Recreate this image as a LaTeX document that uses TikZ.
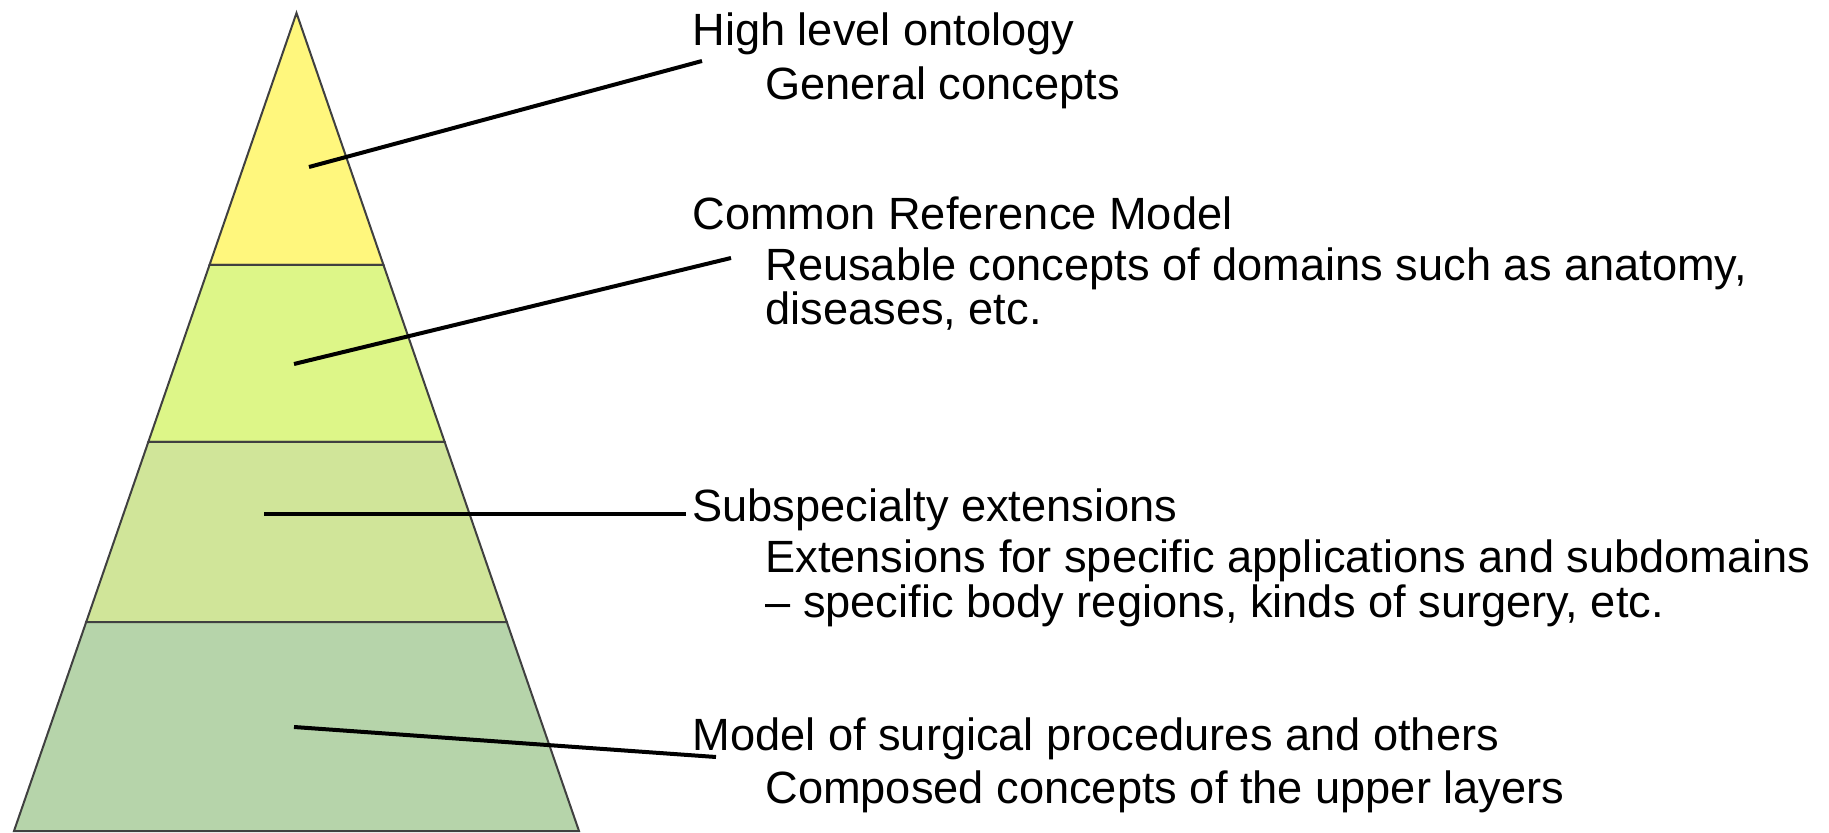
\documentclass[tikz,border=0pt]{standalone}
\usepackage{fontspec}
\setmainfont{Liberation Sans}
\usetikzlibrary{positioning}

\definecolor{topyellow}{RGB}{255,247,125}
\definecolor{refgreen}{RGB}{221,246,136}
\definecolor{subgreen}{RGB}{208,229,153}
\definecolor{basegreen}{RGB}{182,212,170}

\tikzset{
  layer/.style={draw=black!75, line width=1pt},
  link/.style={line width=2pt},
  head/.style={anchor=base west, inner sep=0pt, font=\fontsize{22.6}{20}\selectfont},
  desc/.style={anchor=base west, inner sep=0pt, align=left, font=\fontsize{22.6}{20}\selectfont}
}

\begin{document}
\begin{tikzpicture}[x=0.5pt,y=-0.5pt]
\useasboundingbox (0,0) rectangle (1829,833);

% pyramid, top to bottom
\draw[layer, fill=topyellow] (296.5,13) -- (383.5,265) -- (209.5,265) -- cycle;
\draw[layer, fill=refgreen] (209.5,265) -- (383.5,265) -- (444.7,442) -- (148.3,442) -- cycle;
\draw[layer, fill=subgreen] (148.3,442) -- (444.7,442) -- (506.8,622) -- (86.2,622) -- cycle;
\draw[layer, fill=basegreen] (86.2,622) -- (506.8,622) -- (579,831) -- (14,831) -- cycle;

% labels (base = last line)
\node[head] (high) at (692,46) {High level ontology};
\node[desc] (general) at (765,100) {General concepts};
\node[head] (common) at (692,230) {Common Reference Model};
\node[desc] (reusable) at (765,325) {Reusable concepts of domains such as anatomy,\\diseases, etc.};
\node[head] (subspec) at (692,521) {Subspecialty extensions};
\node[desc] (ext) at (765,617) {Extensions for specific applications and subdomains\\– specific body regions, kinds of surgery, etc.};
\node[head] (model) at (692,750) {Model of surgical procedures and others};
\node[desc] (composed) at (765,803) {Composed concepts of the upper layers};

% leader lines
\coordinate (in1) at (309,167);
\coordinate (out1) at (702,61);
\coordinate (in2) at (294,364);
\coordinate (out2) at (731,258);
\coordinate (in3) at (264,514);
\coordinate (out3) at (686,514);
\coordinate (in4) at (294,727);
\coordinate (out4) at (716,757);
\draw[link] (in1) -- (out1);
\draw[link] (in2) -- (out2);
\draw[link] (in3) -- (out3);
\draw[link] (in4) -- (out4);
\end{tikzpicture}
\end{document}
